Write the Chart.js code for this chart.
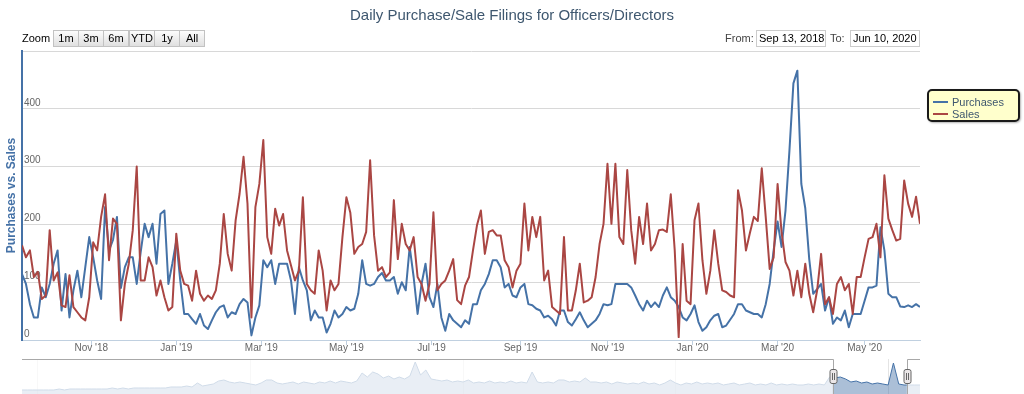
<!DOCTYPE html>
<html>
<head>
<meta charset="utf-8">
<title>Daily Purchase/Sale Filings for Officers/Directors</title>
<script src="https://cdn.jsdelivr.net/npm/chart.js@4.4.1/dist/chart.umd.min.js"></script>
<style>
  html, body { margin: 0; padding: 0; background: #fff; }
  body { width: 1024px; height: 394px; position: relative; overflow: hidden;
         font-family: 'Lucida Grande', 'Liberation Sans', Arial, sans-serif; }
  canvas { position: absolute; left: 0; }
  #main { top: 0; }
  #nav { top: 359px; }
  #title { position: absolute; top: 6px; left: 0; width: 1024px; text-align: center;
           font-size: 15px; line-height: 17px; color: #3E576F; }
  .lbl { position: absolute; font-size: 11px; line-height: 17px; top: 30px; }
  .btn { position: absolute; top: 30px; height: 17px; width: 26px; box-sizing: border-box;
         border: 1px solid #C2C2C2; background: linear-gradient(#FCFCFC, #E0E0E0);
         font-size: 11px; line-height: 15px; text-align: center; color: #000; }
  .box { position: absolute; top: 30px; height: 17px; box-sizing: border-box; width: 70px;
         border: 1px solid #CCC; font-size: 11px; line-height: 15px; padding-left: 2px; color: #000; }
  #legend { position: absolute; left: 927px; top: 89px; width: 93px; height: 33px; box-sizing: border-box;
            border: 2px solid #1a1a1a; border-radius: 5px; background: #FFFFCC;
            box-shadow: 1px 1px 2px rgba(0,0,0,0.3); }
  #legend .item { position: absolute; left: 23px; font-size: 11px; line-height: 12px; color: #3E576F; }
  #legend .sw { position: absolute; left: 4px; width: 15px; height: 2px; }
</style>
</head>
<body>
<canvas id="main" width="1024" height="362"></canvas>
<canvas id="nav" width="1024" height="40"></canvas>

<div id="title">Daily Purchase/Sale Filings for Officers/Directors</div>

<div class="lbl" style="left:22px">Zoom</div>
<div class="btn" style="left:53px">1m</div>
<div class="btn" style="left:78px">3m</div>
<div class="btn" style="left:103px">6m</div>
<div class="btn" style="left:129px">YTD</div>
<div class="btn" style="left:154px">1y</div>
<div class="btn" style="left:179px">All</div>

<div class="lbl" style="left:725px; color:#444">From:</div>
<div class="box" style="left:756px">Sep 13, 2018</div>
<div class="lbl" style="left:830px; color:#444">To:</div>
<div class="box" style="left:850px">Jun 10, 2020</div>

<div id="legend">
  <div class="sw" style="top:10px; background:#4572A7"></div>
  <div class="item" style="top:5px">Purchases</div>
  <div class="sw" style="top:22px; background:#AA4643"></div>
  <div class="item" style="top:17px">Sales</div>
</div>

<script>
const FIRST_DAY = '2018-09-13'
const LAST_DAY = '2020-06-10'
const SAMPLE_STEP = 2   // one reading every second trading day

const purchases = [
  114, 97, 62, 39, 39, 91, 74, 97, 132, 155,
  51, 114, 39, 86, 120, 74, 126, 178, 143, 103,
  71, 230, 155, 173, 213, 90, 126, 143, 143, 97,
  152, 201, 178, 201, 132, 218, 224, 97, 132, 172,
  103, 45, 45, 36, 28, 45, 25, 19, 34, 48,
  57, 60, 39, 48, 45, 62, 71, 65, 8, 39,
  60, 138, 126, 138, 97, 132, 132, 132, 103, 45,
  126, 103, 86, 34, 51, 39, 39, 13, 28, 51,
  39, 45, 57, 51, 54, 80, 138, 97, 94, 97,
  109, 116, 103, 103, 109, 80, 100, 86, 161, 109,
  45, 97, 132, 74, 57, 97, 39, 16, 45, 34,
  28, 22, 34, 28, 62, 62, 86, 97, 114, 138,
  138, 126, 91, 97, 77, 74, 91, 97, 62, 60,
  54, 51, 39, 42, 36, 25, 51, 51, 31, 25,
  36, 48, 34, 22, 28, 34, 45, 62, 60, 62,
  97, 97, 97, 97, 91, 77, 62, 51, 68, 57,
  65, 57, 77, 91, 74, 68, 57, 39, 34, 45,
  60, 31, 16, 22, 34, 42, 45, 22, 25, 35,
  45, 62, 62, 51, 48, 45, 45, 39, 62, 97,
  155, 205, 161, 224, 328, 444, 466, 270, 228, 140,
  80, 88, 97, 51, 74, 28, 39, 34, 51, 22,
  45, 45, 45, 68, 91, 91, 94, 195, 155, 80,
  74, 74, 58, 57, 60, 57, 62, 57
]

const sales = [
  164, 143, 155, 109, 118, 71, 77, 190, 103, 117,
  60, 57, 112, 57, 48, 39, 34, 74, 169, 155,
  213, 252, 138, 210, 201, 34, 97, 132, 190, 300,
  103, 103, 143, 126, 77, 103, 74, 51, 57, 184,
  120, 97, 94, 68, 120, 80, 68, 77, 71, 86,
  132, 218, 149, 120, 207, 253, 317, 236, 39, 230,
  270, 346, 178, 149, 227, 198, 218, 155, 129, 103,
  120, 247, 97, 86, 80, 155, 120, 51, 103, 86,
  97, 178, 247, 220, 149, 161, 166, 187, 311, 181,
  120, 126, 109, 117, 242, 140, 201, 166, 155, 178,
  109, 97, 68, 97, 221, 86, 97, 103, 120, 140,
  69, 62, 94, 109, 155, 198, 224, 149, 187, 190,
  181, 181, 138, 126, 91, 120, 132, 236, 155, 213,
  178, 213, 103, 120, 57, 51, 45, 178, 51, 51,
  86, 132, 65, 68, 74, 109, 166, 201, 305, 201,
  305, 178, 166, 294, 190, 132, 213, 166, 236, 155,
  166, 190, 191, 187, 252, 155, 5, 166, 68, 62,
  207, 236, 138, 80, 120, 190, 132, 86, 83, 77,
  74, 259, 224, 155, 185, 213, 206, 297, 213, 123,
  143, 270, 187, 135, 120, 77, 120, 74, 132, 80,
  48, 86, 149, 62, 74, 45, 97, 109, 86, 97,
  45, 109, 109, 143, 175, 178, 201, 143, 285, 210,
  190, 172, 175, 276, 236, 213, 248, 201
]

const yTicks = [0, 100, 200, 300, 400, 500]
const monthNames = ['Jan', 'Feb', 'Mar', 'Apr', 'May', 'Jun', 'Jul', 'Aug', 'Sep', 'Oct', 'Nov', 'Dec']

// navigator: whole history, one reading every 1.5 months
const navStartYear = 1999.625
const navStepYears = 0.125
const navValues = [
  9, 9, 9,
  9, 9, 9, 9, 10, 9, 10, 10,
  10, 10, 10, 10, 10, 10, 11, 10,
  11, 10, 11, 11, 11, 11, 11, 11,
  11, 12, 12, 12, 13, 12, 16, 13,
  14, 15, 18, 19, 17, 16, 17, 16,
  15, 14, 16, 19, 19, 16, 15, 16,
  17, 15, 17, 16, 15, 17, 16, 18,
  16, 18, 17, 16, 18, 26, 22, 27,
  25, 21, 23, 20, 22, 20, 23, 37,
  24, 29, 20, 19, 18, 19, 17, 18,
  17, 19, 16, 17, 16, 18, 16, 17,
  16, 18, 16, 17, 16, 27, 17, 16,
  17, 16, 19, 19, 17, 18, 17, 21,
  17, 17, 16, 17, 15, 17, 16, 15,
  16, 15, 17, 15, 16, 14, 16, 19,
  16, 14, 16, 15, 17, 15, 16, 15,
  16, 14, 15, 16, 14, 15, 16, 14,
  15, 14, 16, 14, 15, 14, 15, 14,
  14, 15, 14, 15, 14, 22, 21, 22,
  20, 17, 18, 16, 17, 15, 16, 15,
  14, 36, 15, 14, 14, 14, 14
]
const navYearTicks = [2000, 2005, 2010, 2015, 2020]

const BLUE = '#4572A7'
const RED = '#AA4643'

function tradingDays(from, to) {
  const out = []
  const d = new Date(from + 'T00:00:00Z')
  const end = new Date(to + 'T00:00:00Z')
  while (d <= end) {
    const wd = d.getUTCDay()
    if (wd !== 0 && wd !== 6) out.push(new Date(d))
    d.setUTCDate(d.getUTCDate() + 1)
  }
  return out
}

function yearFraction(d) {
  const start = Date.UTC(d.getUTCFullYear(), 0, 1)
  const next = Date.UTC(d.getUTCFullYear() + 1, 0, 1)
  return d.getUTCFullYear() + (d - start) / (next - start)
}

const days = tradingDays(FIRST_DAY, LAST_DAY)

// first trading day of every second month (Nov, Jan, Mar ...)
const monthTicks = days.map((d, i) => i).filter(i =>
  i > 0 && days[i].getUTCMonth() !== days[i - 1].getUTCMonth() && days[i].getUTCMonth() % 2 === 0)

function monthLabel(i) {
  const d = days[i]
  return monthNames[d.getUTCMonth()] + " '" + String(d.getUTCFullYear()).slice(2)
}

Chart.defaults.font.family = "'Lucida Grande', 'Liberation Sans', Arial, sans-serif"

new Chart(document.getElementById('main'), {
  type: 'line',
  data: {
    datasets: [
      {label: 'Purchases', data: purchases.map((v, k) => ({x: k * SAMPLE_STEP, y: v})),
       borderColor: BLUE, borderWidth: 2, pointRadius: 0, tension: 0, fill: false,
       borderJoinStyle: 'round', order: 1},
      {label: 'Sales', data: sales.map((v, k) => ({x: k * SAMPLE_STEP, y: v})),
       borderColor: RED, borderWidth: 2, pointRadius: 0, tension: 0, fill: false,
       borderJoinStyle: 'round', order: 0}
    ]
  },
  options: {
    responsive: false,
    animation: false,
    devicePixelRatio: 1,
    events: [],
    layout: {padding: {top: 51, right: 104, left: 0, bottom: 0}},
    plugins: {legend: {display: false}, tooltip: {enabled: false}},
    scales: {
      x: {
        type: 'linear', min: 0, max: days.length - 1,
        afterFit: (s) => { s.height = 22 },
        afterBuildTicks: (s) => { s.ticks = monthTicks.map(v => ({value: v})) },
        ticks: {callback: (v) => monthLabel(v), color: '#666', font: {size: 10},
                maxRotation: 0, autoSkip: false, padding: -3},
        grid: {drawOnChartArea: false, color: '#C0D0E0', tickLength: 5},
        border: {color: '#C0D0E0'}
      },
      y: {
        min: yTicks[0], max: yTicks[yTicks.length - 1],
        afterFit: (s) => { s.width = 22 },
        afterBuildTicks: (s) => { s.ticks = yTicks.map(v => ({value: v})) },
        ticks: {mirror: true, padding: 2, labelOffset: -6, color: '#666', font: {size: 10},
                callback: (v, i, t) => i === t.length - 1 ? '' : v},
        grid: {color: '#D8D8D8', drawTicks: false},
        border: {color: BLUE, width: 2},
        title: {display: true, text: 'Purchases vs. Sales', color: BLUE,
                font: {size: 12, weight: 'bold'}, padding: {top: 4, bottom: 0}}
      }
    }
  }
})

// white mask outside the selected range, outline and the two handles
const navigatorMask = {
  id: 'navigatorMask',
  afterDatasetsDraw(chart) {
    const {ctx, chartArea: a, scales: {x}} = chart
    const x1 = x.getPixelForValue(yearFraction(days[0]))
    const x2 = x.getPixelForValue(yearFraction(days[days.length - 1]))
    ctx.save()
    ctx.fillStyle = 'rgba(255,255,255,0.75)'
    ctx.fillRect(a.left, a.top, x1 - a.left, a.bottom - a.top)
    ctx.fillRect(x2, a.top, a.right - x2, a.bottom - a.top)
    ctx.restore()
  },
  afterDraw(chart) {
    const {ctx, chartArea: a, scales: {x}} = chart
    const x1 = Math.round(x.getPixelForValue(yearFraction(days[0]))) + 0.5
    const x2 = Math.round(x.getPixelForValue(yearFraction(days[days.length - 1]))) + 0.5
    ctx.save()
    ctx.strokeStyle = '#A8A8A8'
    ctx.lineWidth = 1
    ctx.beginPath()
    ctx.moveTo(a.left, 0.5)
    ctx.lineTo(x1, 0.5)
    ctx.lineTo(x1, a.bottom)
    ctx.moveTo(x2, a.bottom)
    ctx.lineTo(x2, 0.5)
    ctx.lineTo(a.right, 0.5)
    ctx.stroke()
    for (const hx of [x1, x2]) {
      ctx.beginPath()
      ctx.roundRect(hx - 3.5, 10.5, 7, 14, 2)
      ctx.fillStyle = '#EBE7E8'
      ctx.fill()
      ctx.strokeStyle = '#666'
      ctx.stroke()
      ctx.beginPath()
      ctx.moveTo(hx - 1, 14)
      ctx.lineTo(hx - 1, 21)
      ctx.moveTo(hx + 1, 14)
      ctx.lineTo(hx + 1, 21)
      ctx.stroke()
    }
    ctx.restore()
  }
}

new Chart(document.getElementById('nav'), {
  type: 'line',
  data: {
    datasets: [{
      data: navValues.map((v, k) => ({x: navStartYear + k * navStepYears, y: v})),
      borderColor: BLUE, borderWidth: 1, backgroundColor: 'rgba(69,114,167,0.45)',
      fill: 'origin', pointRadius: 0, tension: 0
    }]
  },
  options: {
    responsive: false,
    animation: false,
    devicePixelRatio: 1,
    events: [],
    layout: {padding: {left: 22, right: 104, top: 0, bottom: 0}},
    plugins: {legend: {display: false}, tooltip: {enabled: false}},
    scales: {
      x: {
        type: 'linear', z: 1,
        min: navStartYear, max: navStartYear + (navValues.length - 1) * navStepYears,
        afterFit: (s) => { s.height = 0 },
        afterBuildTicks: (s) => { s.ticks = navYearTicks.map(v => ({value: v})) },
        ticks: {align: 'start', padding: -17, labelOffset: 2, color: '#888', font: {size: 10},
                maxRotation: 0, autoSkip: false, callback: (v) => String(v)},
        grid: {color: '#E4E4E4', drawTicks: false},
        border: {display: false}
      },
      y: {display: false, min: 0, max: 40}
    }
  },
  plugins: [navigatorMask]
})
</script>
</body>
</html>
